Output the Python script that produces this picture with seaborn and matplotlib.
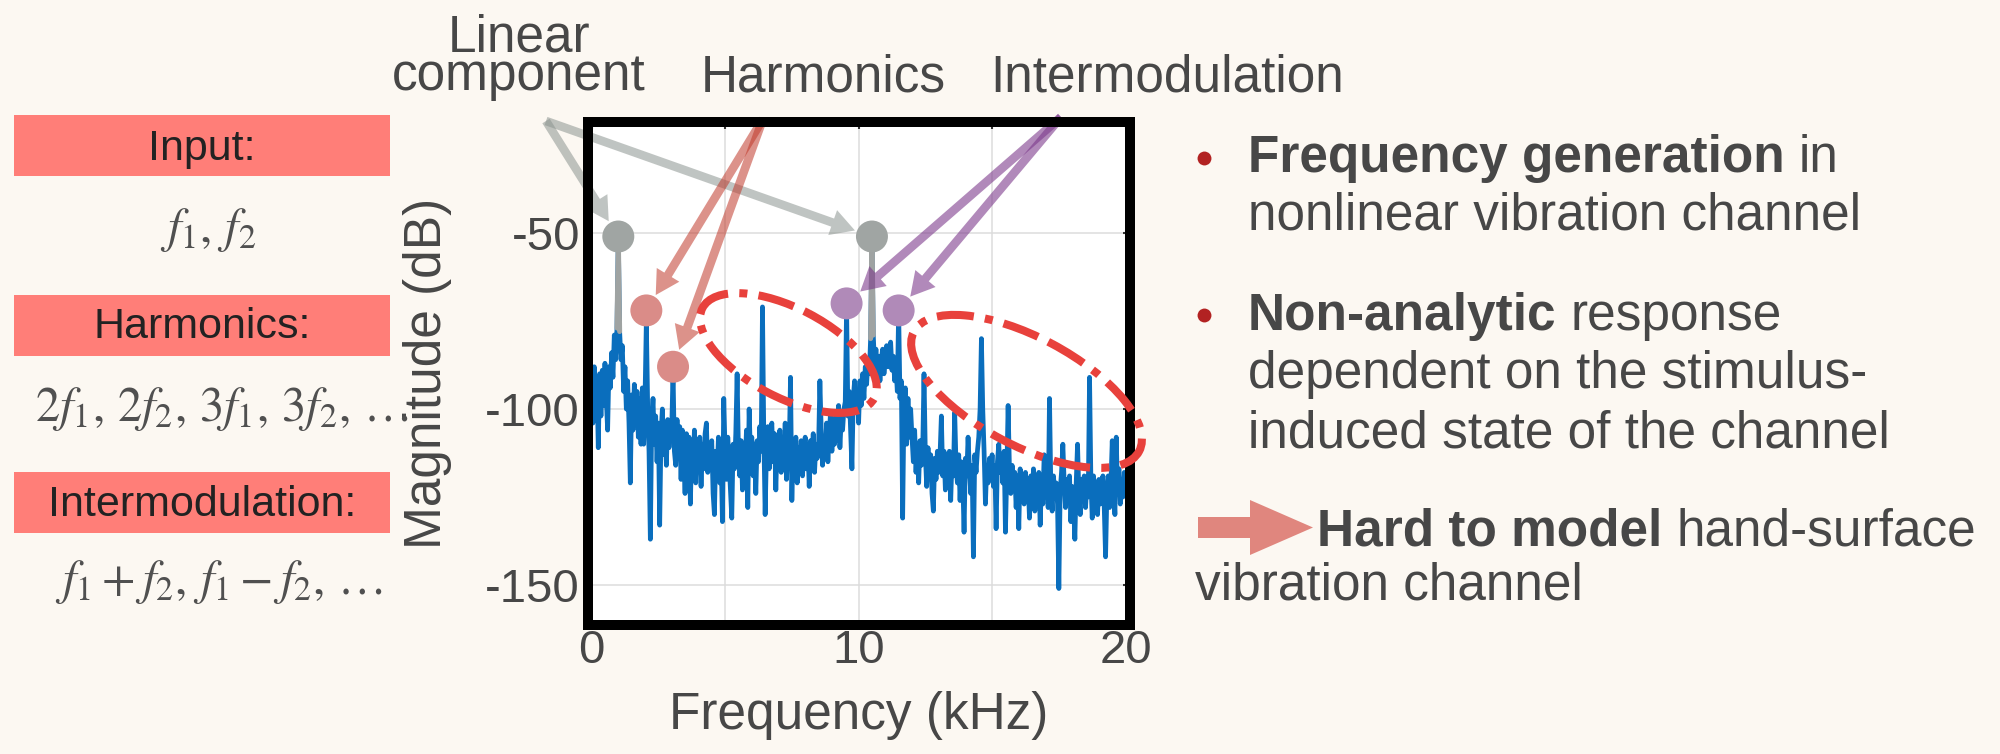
import numpy as np
import pandas as pd
import matplotlib
matplotlib.use("Agg")
import matplotlib.pyplot as plt
import matplotlib.transforms as mtransforms
from matplotlib.patches import Rectangle, Ellipse, FancyArrow
from matplotlib.lines import Line2D
import seaborn as sns

# ---------------------------------------------------------------------------
# Measured magnitude spectrum, one sample every 0.05 kHz (one row per kHz)
# ---------------------------------------------------------------------------
freq_step_khz = 0.05
magnitude_db = [
    -90, -104, -88, -100, -92, -111, -90, -102, -89, -99, -87, -97, -106, -88, -94, -84, -91, -79, -86, -77,
    -51, -78, -86, -82, -95, -88, -100, -92, -104, -121, -96, -106, -93, -104, -95, -108, -97, -110, -94, -110,
    -97, -75, -99, -112, -137, -104, -97, -110, -102, -115, -104, -133, -107, -100, -113, -105, -116, -103, -111, -105,
    -106, -89, -112, -116, -103, -113, -105, -120, -106, -112, -124, -107, -116, -108, -127, -110, -117, -106, -121, -109,
    -115, -108, -122, -110, -117, -107, -104, -118, -111, -116, -109, -124, -130, -112, -119, -108, -121, -113, -132, -97,
    -112, -120, -108, -115, -123, -131, -110, -117, -107, -90, -112, -119, -109, -123, -111, -116, -106, -128, -100, -113,
    -108, -119, -110, -124, -109, -115, -105, -112, -71, -108, -130, -112, -105, -117, -108, -104, -115, -107, -123, -109,
    -113, -106, -118, -109, -114, -104, -120, -108, -112, -91, -126, -110, -117, -108, -121, -111, -116, -109, -119, -112,
    -108, -117, -110, -122, -109, -115, -107, -118, -110, -114, -111, -92, -106, -116, -108, -113, -104, -115, -107, -101,
    -112, -104, -110, -102, -109, -99, -111, -103, -106, -100, -98, -71, -102, -95, -106, -117, -97, -92, -100, -95,
    -104, -92, -99, -90, -97, -88, -93, -86, -90, -80, -51, -79, -88, -83, -90, -85, -92, -86, -83, -90,
    -86, -82, -88, -83, -81, -89, -85, -92, -88, -95, -72, -97, -92, -131, -99, -94, -110, -97, -108, -100,
    -108, -115, -106, -118, -110, -121, -109, -116, -112, -90, -113, -122, -111, -119, -113, -124, -129, -114, -120, -112,
    -118, -113, -102, -119, -112, -123, -113, -118, -112, -126, -114, -119, -101, -116, -121, -113, -126, -115, -120, -135,
    -114, -119, -108, -117, -124, -116, -142, -113, -118, -112, -108, -100, -80, -100, -112, -127, -116, -121, -114, -119,
    -113, -122, -116, -134, -115, -110, -118, -113, -121, -112, -135, -118, -99, -117, -124, -116, -122, -118, -128, -119,
    -134, -117, -125, -120, -127, -118, -124, -121, -131, -119, -126, -117, -129, -120, -125, -118, -133, -121, -127, -113,
    -124, -120, -128, -97, -122, -129, -119, -125, -121, -127, -151, -123, -118, -110, -121, -128, -120, -126, -119, -132,
    -122, -127, -137, -121, -110, -124, -130, -120, -126, -119, -128, -121, -125, -91, -120, -131, -119, -126, -121, -130,
    -120, -127, -122, -119, -128, -142, -124, -119, -128, -121, -109, -122, -130, -108, -124, -117, -127, -120, -125, -118,
    -123,
]

# Highlighted spectral components (kHz, dB)
linear_khz = [1.0, 10.5]
linear_db = [-51, -51]
harmonic_khz = [2.05, 3.05]
harmonic_db = [-72, -88]
intermod_khz = [9.55, 11.5]
intermod_db = [-70, -72]

x_ticks = [0, 5, 10, 15, 20]
x_tick_labels = ["0", "", "10", "", "20"]
y_ticks = [-150, -100, -50]
y_tick_labels = ["-150", "-100", "-50"]

# Regions circled with dash-dot ellipses (centre kHz, centre dB)
region_khz = [7.37, 16.29]
region_db = [-84.1, -95.0]

# Side panels
box_titles = ["Input:", "Harmonics:", "Intermodulation:"]
box_formulas = [r"$f_1,\, f_2$",
                r"$2f_1,\, 2f_2,\, 3f_1,\, 3f_2,\, \ldots$",
                r"$f_1 + f_2,\, f_1 - f_2,\, \ldots$"]

# ---------------------------------------------------------------------------
BG = "#FCF8F2"
TXT = "#474747"
BLUE = "#0A6EBD"
GRAY_DOT = "#A0A5A3"
PINK_DOT = "#DA8C88"
PURPLE_DOT = "#B08AB8"
RED_LOOP = "#E8413C"
BOX = "#FF7E78"

sns.set_style("white")
plt.rcParams["font.family"] = ["Liberation Sans", "DejaVu Sans"]
plt.rcParams["mathtext.fontset"] = "stix"
plt.rcParams["axes.unicode_minus"] = False

W, H = 2000, 754
fig = plt.figure(figsize=(W / 100, H / 100), dpi=100, facecolor=BG)
# pixel coordinates measured from the top-left corner of the figure
px = mtransforms.Affine2D().scale(1 / W, -1 / H).translate(0, 1) + fig.transFigure

ax = fig.add_axes([588 / W, 1 - 625 / H, (1130 - 588) / W, (625 - 122) / H])
ax.set_facecolor("white")

mag = np.array(magnitude_db, dtype=float)
freq = np.round(np.arange(mag.size) * freq_step_khz, 2)
spectrum = pd.DataFrame({"freq_khz": freq, "mag_db": mag})

sns.lineplot(data=spectrum, x="freq_khz", y="mag_db", ax=ax, color=BLUE,
             lw=3.4, estimator=None, zorder=3)

# linear components redrawn in grey
for f in linear_khz:
    seg = spectrum[np.abs(spectrum["freq_khz"] - f) <= 0.051]
    sns.lineplot(data=seg, x="freq_khz", y="mag_db", ax=ax, color="#9FA3A2",
                 lw=3.6, estimator=None, zorder=4)

dots = pd.DataFrame({
    "freq_khz": linear_khz + harmonic_khz + intermod_khz,
    "mag_db": linear_db + harmonic_db + intermod_db,
    "kind": ["linear"] * 2 + ["harmonic"] * 2 + ["intermod"] * 2,
})
sns.scatterplot(data=dots, x="freq_khz", y="mag_db", hue="kind", ax=ax,
                palette={"linear": GRAY_DOT, "harmonic": PINK_DOT, "intermod": PURPLE_DOT},
                s=530, linewidth=0, legend=False, zorder=6, clip_on=False)

ax.set_xlim(-0.135, 20.165)
ax.set_ylim(-161.36, -18.47)
ax.set_xticks(x_ticks)
ax.set_xticklabels(x_tick_labels)
ax.set_yticks(y_ticks)
ax.set_yticklabels(y_tick_labels)
ax.grid(True, color="#DCDCDC", lw=1.1)
ax.tick_params(axis="both", direction="in", length=5, width=1.5, color="#333333",
               top=True, right=True, labelsize=34, labelcolor=TXT)
ax.tick_params(axis="x", pad=3)
ax.tick_params(axis="y", pad=5.8)
for sp in ax.spines.values():
    sp.set_visible(True)
    sp.set_color("black")
    sp.set_linewidth(7.2)
    sp.set_zorder(8)

ax.set_xlabel("Frequency (kHz)", fontsize=37, color=TXT, labelpad=13)
ax.set_ylabel("Magnitude (dB)", fontsize=37, color=TXT, labelpad=24)

# dash-dot loops around the intermodulation clusters
loop_size = [(194, 89, 27.7), (255, 108, 28.0)]
for xc, yc, (w, h, ang) in zip(region_khz, region_db, loop_size):
    tr = mtransforms.Affine2D().scale(1, -1) + mtransforms.ScaledTranslation(xc, yc, ax.transData)
    e = Ellipse((0, 0), w, h, angle=ang, transform=tr, fill=False, ec=RED_LOOP,
                lw=5.8, linestyle=(0, (4.6, 1.4, 1.0, 1.4)), clip_on=False, zorder=7)
    fig.add_artist(e)

# callout arrows from the headings to the marked components
def callout(start, xs, ys, color, alpha):
    for x, y in zip(xs, ys):
        ax.annotate("", xy=(x, y), xycoords="data", xytext=start, textcoords=px,
                    annotation_clip=False, zorder=5,
                    arrowprops=dict(arrowstyle="simple,head_length=1.7,head_width=1.9,tail_width=0.62",
                                    mutation_scale=10, color=color, alpha=alpha, lw=0,
                                    shrinkA=0, shrinkB=13))

callout((546, 121), linear_khz, linear_db, "#8C9490", 0.55)
callout((763, 119), harmonic_khz, harmonic_db, "#C0392B", 0.55)
callout((1061, 117), intermod_khz, intermod_db, "#7D3A8C", 0.6)

# headings above the spectrum
head_kw = dict(fontsize=37, color=TXT, ha="center", va="baseline", transform=px)
fig.text(519, 90, "Linear\ncomponent", multialignment="center", linespacing=0.72, **head_kw)
fig.text(823, 91, "Harmonics", **head_kw)
fig.text(1167, 91, "Intermodulation", **head_kw)

# left-hand legend boxes
box_tops = [115, 295, 472]
title_base = [160, 338.5, 516]
formula_pos = [(208, 242), (222, 421), (219, 594)]
for top, tb, title, (fx, fy), formula in zip(box_tops, title_base, box_titles, formula_pos, box_formulas):
    fig.add_artist(Rectangle((14, top), 376, 61, transform=px, color=BOX, lw=0, zorder=1))
    fig.text(202, tb, title, fontsize=31, color="#222222", ha="center", va="baseline",
             transform=px, zorder=2)
    fig.text(fx, fy, formula, fontsize=35, color="#505050", ha="center", va="baseline",
             transform=px)

# right-hand notes
def rich_line(x, y, parts, size=37):
    prev = None
    for text, weight in parts:
        if prev is None:
            prev = fig.text(x, y, text, fontsize=size, fontweight=weight, color=TXT,
                            ha="left", va="baseline", transform=px)
        else:
            prev = ax.annotate(text, xy=(1, 0), xycoords=prev, xytext=(0.278 * size, 0),
                               textcoords="offset points", fontsize=size, fontweight=weight,
                               color=TXT, ha="left", va="bottom", annotation_clip=False)

for by in (158, 315):
    fig.add_artist(Line2D([1204], [by], transform=px, marker="o", ms=10,
                          color="#B22222", mew=0, lw=0))

rich_line(1248, 172, [("Frequency generation", "bold"), ("in", "normal")])
rich_line(1248, 230, [("nonlinear vibration channel", "normal")])
rich_line(1248, 330, [("Non-analytic", "bold"), ("response", "normal")])
rich_line(1248, 388, [("dependent on the stimulus-", "normal")])
rich_line(1248, 447, [("induced state of the channel", "normal")])
fig.add_artist(FancyArrow(1198, 527.5, 115, 0, width=21, head_width=55, head_length=63,
                          length_includes_head=True, transform=px, color="#E0867E", lw=0))
rich_line(1317, 545, [("Hard to model", "bold"), ("hand-surface", "normal")])
rich_line(1195, 600, [("vibration channel", "normal")])

fig.savefig("out.png", dpi=100, facecolor=BG)
